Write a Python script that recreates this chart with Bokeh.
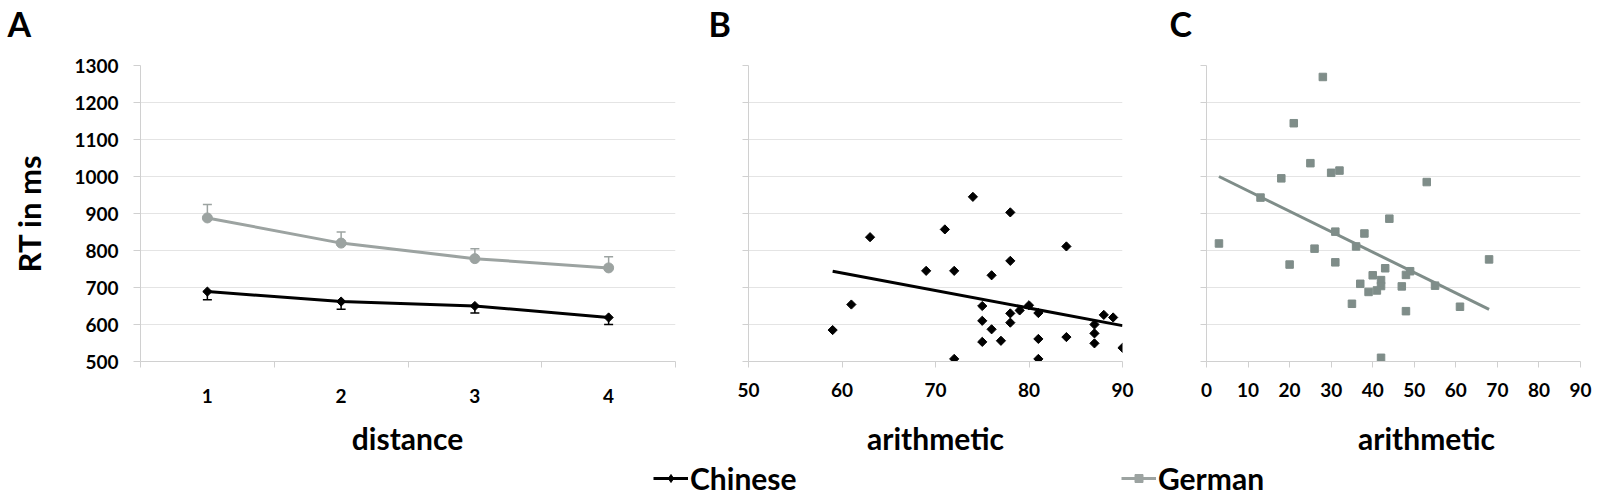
import math
from bokeh.plotting import figure
from bokeh.layouts import row, column
from bokeh.models import (ColumnDataSource, Range1d, FixedTicker, Whisker, TeeHead,
                          Legend, LegendItem, Label)
from bokeh.embed import file_html
from bokeh.resources import INLINE

# ---------------- data ----------------
distance = [1, 2, 3, 4]
chinese_rt = [689, 662, 650, 619]
chinese_err = [22, 21, 19, 19]
german_rt = [888, 820, 778, 753]
german_err = [36, 30, 27, 30]

chinese_arith = [74, 78, 71, 63, 84, 78, 69, 72, 76, 61, 59, 75, 75, 76, 75, 77,
                 72, 78, 78, 79, 80, 81, 81, 81, 84, 87, 87, 87, 88, 89, 90]
chinese_rt_ind = [945, 903, 857, 836, 811, 772, 745, 745, 733, 654, 585, 650, 610, 587, 553, 556,
                  507, 630, 605, 638, 652, 631, 561, 507, 566, 600, 576, 549, 626, 619, 537]
chinese_fit_x = [59, 90]
chinese_fit_rt = [744, 597]

german_arith = [28, 21, 25, 30, 32, 18, 53, 13, 44, 31, 38, 3, 36, 26, 68, 31,
                20, 43, 49, 48, 40, 42, 37, 42, 47, 55, 41, 39, 35, 61, 48, 42]
german_rt_ind = [1269, 1144, 1036, 1010, 1016, 995, 985, 943, 886, 851, 846, 819, 811, 805, 776, 768,
                 762, 752, 744, 734, 733, 720, 710, 704, 703, 705, 692, 688, 656, 648, 636, 510]
german_fit_x = [3, 68]
german_fit_rt = [1000, 641]

rt_ticks = [500, 600, 700, 800, 900, 1000, 1100, 1200, 1300]
b_ticks = [50, 60, 70, 80, 90]
c_ticks = [0, 10, 20, 30, 40, 50, 60, 70, 80, 90]
panel_letters = ["A", "B", "C"]
x_titles = ["distance", "arithmetic", "arithmetic"]
series_names = ["Chinese", "German"]

# ---------------- style ----------------
FONT = "Lato"
AXIS_C = "#d0d0d0"
GRID_C = "#e4e4e4"
GER_A = "#9ca3a1"
GER_C = "#7f8d89"
BLACK = "#000000"
FH = 296
FW_A = 535
FW_BC = 374
DIAMOND = dict(marker="square", angle=math.pi / 4, size=6.5)
TOP_H = 45
BOT_H = 91
TOTAL_W = 1598


def make_fig(x_range, bl, br, fw):
    p = figure(frame_width=fw, frame_height=FH, x_range=x_range, y_range=Range1d(500, 1300),
               min_border_left=bl, min_border_right=br, min_border_top=20, min_border_bottom=46,
               toolbar_location=None, output_backend="svg")
    p.outline_line_color = None
    p.xgrid.visible = False
    p.ygrid.grid_line_color = GRID_C
    p.ygrid.grid_line_width = 1
    p.yaxis.ticker = FixedTicker(ticks=rt_ticks)
    for ax in p.axis:
        ax.axis_line_color = AXIS_C
        ax.axis_line_width = 1
        ax.major_tick_line_color = AXIS_C
        ax.minor_tick_line_color = AXIS_C
        ax.major_tick_in = 0
        ax.minor_tick_in = 0
        ax.minor_tick_out = 0
        ax.major_tick_out = 6
        ax.major_label_text_font = FONT
        ax.major_label_text_font_style = "bold"
        ax.major_label_text_font_size = "19px"
        ax.major_label_text_color = BLACK
        ax.major_label_standoff = 15
        ax.axis_label_text_font = FONT
        ax.axis_label_text_font_style = "bold"
        ax.axis_label_text_font_size = "31px"
        ax.axis_label_text_color = BLACK
    p.yaxis.major_tick_out = 7
    return p


def strip(h):
    s = figure(width=TOTAL_W, height=h, x_range=Range1d(0, 1), y_range=Range1d(0, 1),
               x_axis_location=None, y_axis_location=None, min_border=0,
               toolbar_location=None, output_backend="svg")
    s.outline_line_color = None
    s.xgrid.visible = False
    s.ygrid.visible = False
    return s


def text_label(fig, text, x, y, size, align):
    fig.add_layout(Label(x=x, y=y, x_units="screen", y_units="screen", text=text,
                         text_font=FONT, text_font_style="bold", text_font_size=size,
                         text_color=BLACK, text_baseline="alphabetic", text_align=align))


# ---------------- panel A ----------------
pa = make_fig(Range1d(0.5, 4.5), 140, 25, FW_A)
minor = [d - 0.5 for d in distance] + [distance[-1] + 0.5]
pa.xaxis.ticker = FixedTicker(ticks=distance, minor_ticks=minor)
pa.xaxis.major_tick_out = 0
pa.xaxis.minor_tick_out = 6
pa.xaxis.major_label_standoff = 21
pa.yaxis.axis_label = "RT in ms"
pa.yaxis.axis_label_standoff = 23

src_a = ColumnDataSource(dict(
    d=distance,
    c=chinese_rt,
    c_lo=[r - e for r, e in zip(chinese_rt, chinese_err)],
    g=german_rt,
    g_hi=[r + e for r, e in zip(german_rt, german_err)],
))
pa.add_layout(Whisker(source=src_a, base="d", lower="g", upper="g_hi", line_color=GER_A,
                      line_width=1.5, lower_head=None,
                      upper_head=TeeHead(size=9, line_color=GER_A, line_width=1.5)))
pa.add_layout(Whisker(source=src_a, base="d", lower="c_lo", upper="c", line_color=BLACK,
                      line_width=1.5, upper_head=None,
                      lower_head=TeeHead(size=9, line_color=BLACK, line_width=1.5)))
pa.line("d", "g", source=src_a, line_color=GER_A, line_width=3)
pa.scatter("d", "g", source=src_a, marker="circle", size=10, fill_color=GER_A, line_color=GER_A)
pa.line("d", "c", source=src_a, line_color=BLACK, line_width=3)
pa.scatter("d", "c", source=src_a, fill_color=BLACK, line_color=BLACK, **DIAMOND)

# ---------------- panel B ----------------
pb = make_fig(Range1d(50, 90), 48, 28, FW_BC)
pb.xaxis.ticker = FixedTicker(ticks=b_ticks)
pb.yaxis.major_label_overrides = {t: "" for t in rt_ticks}
pb.yaxis.major_tick_out = 6
pb.scatter(chinese_arith, chinese_rt_ind, fill_color=BLACK, line_color=BLACK, **DIAMOND)
pb.line(chinese_fit_x, chinese_fit_rt, line_color=BLACK, line_width=3)

# ---------------- panel C ----------------
pc = make_fig(Range1d(0, 90), 56, 18, FW_BC)
pc.xaxis.ticker = FixedTicker(ticks=c_ticks)
pc.yaxis.major_label_overrides = {t: "" for t in rt_ticks}
pc.yaxis.major_tick_out = 6
pc.scatter(german_arith, german_rt_ind, marker="square", size=7.5, fill_color=GER_C, line_color=GER_C)
pc.line(german_fit_x, german_fit_rt, line_color=GER_C, line_width=3)

# ---------------- top strip: panel letters ----------------
top = strip(TOP_H)
for letter, x in zip(panel_letters, [7, 708, 1169]):
    text_label(top, letter, x, 22, "34px", "left")

# ---------------- bottom strip: x titles + legend ----------------
bot = strip(BOT_H)
for title, x in zip(x_titles, [407, 935, 1426]):
    text_label(bot, title, x, 61, "30px", "center")

l1 = bot.line(chinese_fit_x, chinese_fit_rt, line_color=BLACK, line_width=3)
s1 = bot.scatter(chinese_arith, chinese_rt_ind, marker="diamond", size=10,
                 fill_color=BLACK, line_color=BLACK)
l2 = bot.line(german_fit_x, german_fit_rt, line_color=GER_A, line_width=3)
s2 = bot.scatter(german_arith, german_rt_ind, marker="square", size=7.5,
                 fill_color=GER_A, line_color=GER_A)
leg = Legend(items=[LegendItem(label=series_names[0], renderers=[l1, s1]),
                    LegendItem(label=series_names[1], renderers=[l2, s2])],
             orientation="horizontal", location=(653, 2), glyph_width=35, glyph_height=20,
             label_standoff=2, label_width=401, spacing=30, padding=0, margin=0,
             border_line_color=None, background_fill_alpha=0,
             label_text_font=FONT, label_text_font_style="bold", label_text_font_size="30px",
             label_text_color=BLACK)
bot.add_layout(leg)

layout = column(top, row(pa, pb, pc), bot)
open("out.html", "w").write(file_html(layout, INLINE))
